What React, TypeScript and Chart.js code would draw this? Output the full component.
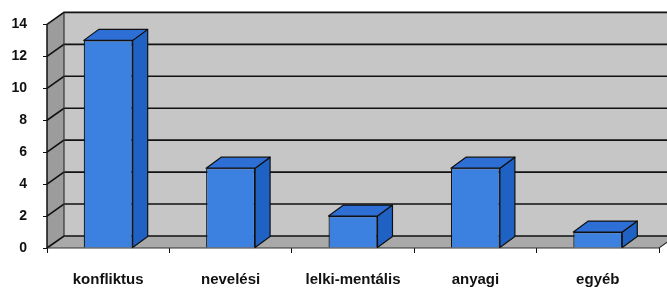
import React, { useEffect, useRef } from "react";
import { Chart, registerables } from "chart.js";

Chart.register(...registerables);

const categories = ["konfliktus", "nevelési", "lelki-mentális", "anyagi", "egyéb"];
const values = [13, 5, 2, 5, 1];
const yTicks = [0, 2, 4, 6, 8, 10, 12, 14];

const DX = 17;
const DY = -12;
const BDX = 15;
const BDY = -11;

const wallPlugin = {
  id: "wall3d",
  beforeDatasetsDraw(chart: any) {
    const { ctx, chartArea, scales } = chart;
    const y = scales.y;
    const L = chartArea.left;
    const R = chartArea.right;
    const T = y.getPixelForValue(14);
    const B = y.getPixelForValue(0);
    ctx.save();
    ctx.fillStyle = "#c6c6c6";
    ctx.fillRect(L + DX, T + DY, R - L + 40, B - T);
    ctx.fillStyle = "#9c9c9c";
    ctx.beginPath();
    ctx.moveTo(L, T);
    ctx.lineTo(L + DX, T + DY);
    ctx.lineTo(L + DX, B + DY);
    ctx.lineTo(L, B);
    ctx.closePath();
    ctx.fill();
    ctx.fillStyle = "#a9a9a9";
    ctx.beginPath();
    ctx.moveTo(L, B);
    ctx.lineTo(L + DX, B + DY);
    ctx.lineTo(R + DX, B + DY);
    ctx.lineTo(R, B);
    ctx.closePath();
    ctx.fill();
    ctx.strokeStyle = "#111";
    ctx.lineWidth = 1.6;
    for (const v of yTicks) {
      const py = y.getPixelForValue(v);
      ctx.beginPath();
      ctx.moveTo(L, py);
      ctx.lineTo(L + DX, py + DY);
      ctx.lineTo(R + DX + 40, py + DY);
      ctx.stroke();
    }
    ctx.lineWidth = 1.2;
    ctx.strokeStyle = "#333";
    ctx.beginPath();
    ctx.moveTo(L + DX, T + DY);
    ctx.lineTo(L + DX, B + DY);
    ctx.stroke();
    ctx.beginPath();
    ctx.moveTo(L, B);
    ctx.lineTo(R, B);
    ctx.lineTo(R + DX, B + DY);
    ctx.stroke();
    ctx.lineWidth = 1.5;
    ctx.strokeStyle = "#111";
    ctx.beginPath();
    ctx.moveTo(L, T);
    ctx.lineTo(L, B);
    ctx.stroke();
    ctx.restore();
  },
  afterDatasetsDraw(chart: any) {
    const { ctx } = chart;
    const meta = chart.getDatasetMeta(0);
    ctx.save();
    ctx.lineWidth = 1.2;
    ctx.strokeStyle = "#111";
    ctx.lineJoin = "round";
    meta.data.forEach((bar: any) => {
      const { x, y, width, base } = bar.getProps(["x", "y", "width", "base"], true);
      const l = x - width / 2;
      const r = x + width / 2;
      ctx.fillStyle = "#1f62c4";
      ctx.beginPath();
      ctx.moveTo(r, y);
      ctx.lineTo(r + BDX, y + BDY);
      ctx.lineTo(r + BDX, base + BDY);
      ctx.lineTo(r, base);
      ctx.closePath();
      ctx.fill();
      ctx.stroke();
      ctx.fillStyle = "#2e6fd6";
      ctx.beginPath();
      ctx.moveTo(l, y);
      ctx.lineTo(l + BDX, y + BDY);
      ctx.lineTo(r + BDX, y + BDY);
      ctx.lineTo(r, y);
      ctx.closePath();
      ctx.fill();
      ctx.stroke();
    });
    ctx.restore();
  },
};

export default function App() {
  const ref = useRef<HTMLCanvasElement>(null);
  useEffect(() => {
    if (!ref.current) return;
    const chart = new Chart(ref.current, {
      type: "bar",
      data: {
        labels: categories,
        datasets: [
          {
            data: values,
            backgroundColor: "#3c80e0",
            borderColor: "#111",
            borderWidth: 1.2,
            categoryPercentage: 1,
            barPercentage: 0.4,
          },
        ],
      },
      options: {
        animation: false,
        responsive: false,
        layout: { padding: { left: 0, right: 8, top: 24, bottom: 0 } },
        plugins: { legend: { display: false }, tooltip: { enabled: false } },
        scales: {
          x: {
            offset: true,
            grid: {
              display: true,
              drawOnChartArea: false,
              offset: true,
              tickLength: 5,
              color: "#111",
            },
            border: { display: false },
            ticks: {
              color: "#111",
              padding: 18,
              font: { family: "Liberation Sans, Arial, sans-serif", size: 15, weight: "bold" },
            },
            afterFit: (s: any) => {
              s.height = 40;
            },
          },
          y: {
            min: 0,
            max: 14,
            afterBuildTicks: (s: any) => {
              s.ticks = yTicks.map((v) => ({ value: v }));
            },
            grid: {
              display: true,
              drawOnChartArea: false,
              tickLength: 4,
              color: "#111",
            },
            border: { display: false },
            ticks: {
              color: "#111",
              padding: 16,
              font: { family: "Liberation Sans, Arial, sans-serif", size: 14, weight: "bold" },
            },
            afterFit: (s: any) => {
              s.width = 47;
            },
          },
        },
      },
      plugins: [wallPlugin],
    });
    return () => chart.destroy();
  }, []);
  return (
    <div style={{ position: "absolute", left: 0, top: 0, width: 667, height: 288, background: "#fff" }}>
      <canvas ref={ref} width={667} height={288} style={{ width: 667, height: 288 }} />
    </div>
  );
}
